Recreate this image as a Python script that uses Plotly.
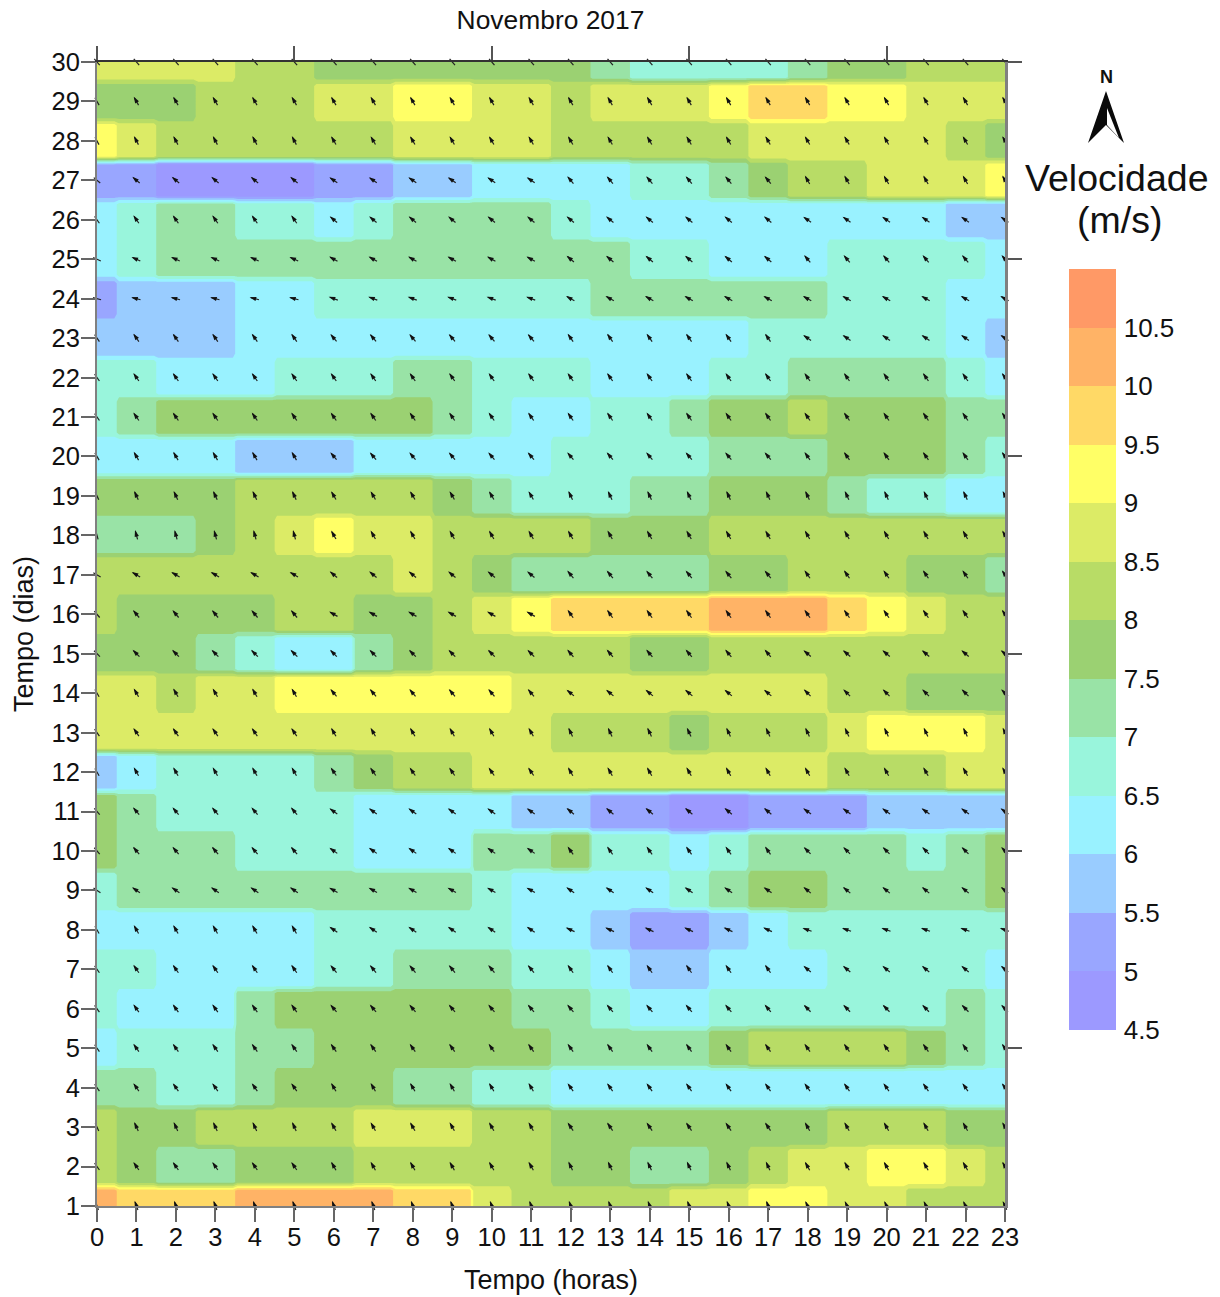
import math
import numpy as np
import plotly.graph_objects as go

hours = list(range(24))
days = list(range(1, 31))
tick_levels = [4.5, 5, 5.5, 6, 6.5, 7, 7.5, 8, 8.5, 9, 9.5, 10, 10.5]
tick_texts = ["4.5", "5", "5.5", "6", "6.5", "7", "7.5", "8", "8.5", "9", "9.5", "10", "10.5"]
band_colors = ["#9C99FF", "#99A6FF", "#99CCFF", "#99F2FF", "#99F5DC", "#99E3A6", "#9BD172",
               "#B8DC66", "#DCEB66", "#FFFF66", "#FFD966", "#FFB366", "#FF9966"]

# wind speed (m/s): one row per day (1..30), one value per hour (0..23)
speed_by_day = [
 [10.25,9.75,9.75,9.75,10.25,10.25,10.25,10.25,9.75,9.75,8.75,8.25,8.25,8.25,8.25,8.75,8.75,9.25,9.25,8.75,8.75,8.25,8.25,8.25],
 [8.25,7.75,7.25,7.25,7.75,7.75,7.75,8.25,8.25,8.25,8.25,8.25,7.75,7.75,7.25,7.25,7.75,8.25,8.75,8.75,9.25,9.25,8.75,8.25],
 [8.25,7.75,7.75,8.25,8.25,8.25,8.25,8.75,8.75,8.75,8.25,8.25,7.75,7.75,7.75,7.75,7.75,7.75,7.75,8.25,8.25,8.25,7.75,7.75],
 [7.25,7.25,6.75,6.75,7.25,7.75,7.75,7.75,7.25,7.25,6.75,6.75,6.25,6.25,6.25,6.25,6.25,6.25,6.25,6.25,6.25,6.25,6.25,6.25],
 [6.25,6.75,6.75,6.75,7.25,7.25,7.75,7.75,7.75,7.75,7.75,7.75,7.25,7.25,7.25,7.25,7.75,8.25,8.25,8.25,8.25,7.75,7.25,6.75],
 [6.75,6.25,6.25,6.25,7.25,7.75,7.75,7.75,7.75,7.75,7.75,7.25,7.25,6.75,6.25,6.25,6.75,6.75,6.75,6.75,6.75,6.75,7.25,6.75],
 [6.75,6.75,6.25,6.25,6.25,6.25,6.75,6.75,7.25,7.25,7.25,6.75,6.75,6.25,5.75,5.75,6.25,6.25,6.25,6.75,6.75,6.75,6.75,6.25],
 [6.25,6.25,6.25,6.25,6.25,6.25,6.75,6.75,6.75,6.75,6.75,6.25,6.25,5.75,5.25,5.25,5.75,6.25,6.75,6.75,6.75,6.75,6.75,6.75],
 [6.75,7.25,7.25,7.25,7.25,7.25,7.25,7.25,7.25,7.25,6.75,6.25,6.25,6.25,6.25,6.75,7.25,7.75,7.75,7.25,7.25,7.25,7.25,7.75],
 [7.75,7.25,7.25,7.25,6.75,6.75,6.75,6.25,6.25,6.25,7.25,7.25,7.75,6.75,6.75,6.25,6.75,7.25,7.25,7.25,7.25,6.75,7.25,7.75],
 [7.75,7.25,6.75,6.75,6.75,6.75,6.75,6.25,6.25,6.25,6.25,5.75,5.75,5.25,5.25,4.75,4.75,5.25,5.25,5.25,5.75,5.75,5.75,5.75],
 [5.75,6.25,6.75,6.75,6.75,6.75,7.25,7.75,8.25,8.25,8.75,8.75,8.75,8.75,8.75,8.75,8.75,8.75,8.75,8.25,8.25,8.25,8.75,8.75],
 [8.75,8.75,8.75,8.75,8.75,8.75,8.75,8.75,8.75,8.75,8.75,8.75,8.25,8.25,8.25,7.75,8.25,8.25,8.25,8.75,9.25,9.25,9.25,8.75],
 [8.75,8.75,8.25,8.75,8.75,9.25,9.25,9.25,9.25,9.25,9.25,8.75,8.75,8.75,8.75,8.75,8.75,8.75,8.75,8.25,8.25,7.75,7.75,7.75],
 [7.75,7.75,7.75,7.25,6.75,6.25,6.25,7.25,7.75,8.25,8.25,8.25,8.25,8.25,7.75,7.75,8.25,8.25,8.25,8.25,8.25,8.25,8.25,8.25],
 [8.25,7.75,7.75,7.75,7.75,8.25,8.25,7.75,7.75,8.25,8.75,9.25,9.75,9.75,9.75,9.75,10.25,10.25,10.25,9.75,9.25,8.75,8.25,8.25],
 [8.25,8.25,8.25,8.25,8.25,8.25,8.25,8.25,8.75,8.25,7.75,7.25,7.25,7.25,7.25,7.25,7.75,7.75,8.25,8.25,8.25,7.75,7.75,7.25],
 [7.25,7.25,7.25,7.75,8.25,8.75,9.25,8.75,8.75,8.25,8.25,8.25,8.25,7.75,7.75,7.75,8.25,8.25,8.25,8.25,8.25,8.25,8.25,8.25],
 [7.75,7.75,7.75,7.75,8.25,8.25,8.25,8.25,8.25,7.75,7.25,6.75,6.75,6.75,7.25,7.25,7.75,7.75,7.75,7.25,6.75,6.75,6.25,6.25],
 [6.25,6.25,6.25,6.25,5.75,5.75,5.75,6.25,6.25,6.25,6.25,6.25,6.75,6.75,6.75,6.75,7.25,7.25,7.25,7.75,7.75,7.75,7.25,6.75],
 [6.75,7.25,7.75,7.75,7.75,7.75,7.75,7.75,7.75,7.25,6.75,6.25,6.25,6.75,6.75,7.25,7.75,7.75,8.25,7.75,7.75,7.75,7.25,7.25],
 [6.75,6.75,6.25,6.25,6.25,6.75,6.75,6.75,7.25,7.25,6.75,6.75,6.75,6.25,6.25,6.25,6.75,6.75,7.25,7.25,7.25,7.25,6.75,6.25],
 [5.75,5.75,5.75,5.75,6.25,6.25,6.25,6.25,6.25,6.25,6.25,6.25,6.25,6.25,6.25,6.25,6.25,6.75,6.75,6.75,6.75,6.75,6.25,5.75],
 [5.25,5.75,5.75,5.75,6.25,6.25,6.75,6.75,6.75,6.75,6.75,6.75,6.75,7.25,7.25,7.25,7.25,7.25,7.25,6.75,6.75,6.75,6.25,6.25],
 [6.25,6.75,7.25,7.25,7.25,7.25,7.25,7.25,7.25,7.25,7.25,7.25,7.25,7.25,6.75,6.75,6.25,6.25,6.25,6.75,6.75,6.75,6.75,6.25],
 [6.25,6.75,7.25,7.25,6.75,6.75,6.25,6.75,7.25,7.25,7.25,7.25,6.75,6.25,6.25,6.25,6.25,6.25,6.25,6.25,6.25,6.25,5.75,5.75],
 [5.25,5.25,4.75,4.75,4.75,4.75,5.25,5.25,5.75,5.75,6.25,6.25,6.25,6.25,6.75,6.75,7.25,7.75,8.25,8.25,8.75,8.75,8.75,9.25],
 [9.25,8.75,8.25,8.25,8.25,8.25,8.25,8.25,8.75,8.75,8.75,8.75,8.25,8.25,8.25,8.25,8.25,8.75,8.75,8.75,8.75,8.75,8.25,7.75],
 [7.75,7.75,7.75,8.25,8.25,8.25,8.75,8.75,9.25,9.25,8.75,8.75,8.25,8.75,8.75,8.75,9.25,9.75,9.75,9.25,9.25,8.75,8.75,8.75],
 [8.75,8.75,8.75,8.75,8.25,8.25,7.75,7.75,7.75,7.75,7.75,7.75,7.75,7.25,6.75,6.75,6.75,6.75,7.25,7.75,7.75,8.25,8.25,8.25],
]

# wind direction (degrees anticlockwise from north) per day, for hour blocks 0-5, 6-11, 12-17, 18-23
direction_by_day = [
 [20,20,20,25],[35,30,25,30],[25,30,35,30],[35,30,35,35],[35,35,35,35],
 [35,40,40,45],[35,40,35,50],[30,55,65,70],[55,60,55,50],[40,55,35,45],
 [40,55,50,55],[30,35,30,30],[35,30,25,25],[30,40,50,45],[45,45,40,50],
 [40,60,35,35],[60,50,40,35],[15,30,30,30],[25,30,25,25],[30,40,40,35],
 [35,35,35,35],[35,35,35,35],[35,40,35,55],[75,70,60,60],[65,60,50,40],
 [35,50,50,55],[50,55,40,30],[28,30,30,30],[30,30,30,30],[40,40,40,40],
]

X_MAX, Y_MIN, Y_MAX = 23, 1, 30
L, T, R, B = 97, 62, 1005, 1206
W, H = 1220, 1297
FONT = "Liberation Sans"


def plateau(values, half):
    """Each measurement holds a flat plateau around its own coordinate; the two ends stop at the axis."""
    out = []
    for v in values:
        out.append(v - half if v > values[0] else v)
        out.append(v + half if v < values[-1] else v)
    return out


def px(xp):
    return (xp - L) / (R - L)


def py(yp):
    return (B - yp) / (B - T)


def poly(points):
    return "M" + " L".join(f"{px(a):.5f},{py(b):.5f}" for a, b in points) + " Z"


xs = plateau(hours, 0.44)
ys = plateau(days, 0.39)
# the end plateaus need a second, distinct coordinate
xs[0], xs[1] = 0, 0.44
xs[-2], xs[-1] = 23 - 0.44, 23
ys[0], ys[1] = 1, 1.39
ys[-2], ys[-1] = 30 - 0.39, 30
z = np.repeat(np.repeat(np.array(speed_by_day), 2, axis=0), 2, axis=1)

lo, hi = 4.5, 11.0
scale = []
for i, c in enumerate(band_colors):
    scale.append([i / len(band_colors), c])
    scale.append([(i + 1) / len(band_colors), c])

fig = go.Figure()
fig.add_trace(go.Contour(
    x=xs, y=ys, z=z, zmin=lo, zmax=hi, zauto=False, colorscale=scale,
    autocontour=False,
    contours=dict(coloring="fill", start=5, end=10.5, size=0.5, showlines=False),
    line=dict(width=0, smoothing=0),
    hoverinfo="skip",
    colorbar=dict(
        lenmode="pixels", len=761, thicknessmode="pixels", thickness=47,
        x=(1069 - L) / (R - L), xanchor="left", xpad=0,
        y=py(1030), yanchor="bottom", ypad=0,
        tickvals=tick_levels, ticktext=tick_texts, ticks="outside", ticklen=3, tickwidth=1, tickcolor="white",
        tickfont=dict(family=FONT, size=26, color="#111"),
        outlinewidth=0, borderwidth=0,
    ),
))
fig.add_trace(go.Scatter(x=[None], y=[None], xaxis="x2", yaxis="y2", showlegend=False, hoverinfo="skip"))

# wind arrows: a shaft marker centred on each grid point and a head marker whose tip sits at the shaft's end
HALF_LEN_X = 5.5 / ((R - L) / X_MAX)
HALF_LEN_Y = 5.5 / ((B - T) / (Y_MAX - Y_MIN))
arrow_x, arrow_y, arrow_angle, head_x, head_y = [], [], [], [], []
for di, day in enumerate(days):
    for h in hours:
        a = direction_by_day[di][min(h // 6, 3)]
        arrow_x.append(h)
        arrow_y.append(day)
        arrow_angle.append(-a)
        head_x.append(h - HALF_LEN_X * math.sin(math.radians(a)))
        head_y.append(day + HALF_LEN_Y * math.cos(math.radians(a)))

fig.add_trace(go.Scatter(
    x=arrow_x, y=arrow_y, mode="markers", cliponaxis=False, hoverinfo="skip", showlegend=False,
    marker=dict(symbol="line-ns", size=6, angle=arrow_angle, line=dict(width=1.2, color="#222")),
))
fig.add_trace(go.Scatter(
    x=head_x, y=head_y, mode="markers", cliponaxis=False, hoverinfo="skip", showlegend=False,
    marker=dict(symbol="arrow", size=7, angle=arrow_angle, color="#111", line=dict(width=0)),
))

annos = [
    dict(x=px(1117), y=py(178), xref="paper", yref="paper", text="Velocidade", showarrow=False,
         font=dict(family=FONT, size=37.5, color="#111"), xanchor="center", yanchor="middle"),
    dict(x=px(1119), y=py(220), xref="paper", yref="paper", text="(m/s)", showarrow=False,
         font=dict(family=FONT, size=37.5, color="#111"), xanchor="center", yanchor="middle"),
    dict(x=px(1106), y=py(77), xref="paper", yref="paper", text="<b>N</b>", showarrow=False,
         font=dict(family=FONT, size=18, color="#111"), xanchor="center", yanchor="middle"),
]

shapes = [
    dict(type="path", xref="paper", yref="paper", line=dict(width=0), fillcolor="#0a0a0a",
         path=poly([(1106, 91), (1124, 143), (1106, 125), (1088, 143)])),
    dict(type="path", xref="paper", yref="paper", line=dict(width=0), fillcolor="#ffffff",
         path=poly([(1107, 108), (1119, 138), (1107, 125)])),
]

axis_font = dict(family=FONT, size=25.5, color="#111")
fig.update_layout(
    width=W, height=H, margin=dict(l=L, r=W - R, t=T, b=H - B, pad=0),
    paper_bgcolor="white", plot_bgcolor="white", showlegend=False,
    font=dict(family=FONT, color="#111"),
    title=dict(text="Novembro 2017", x=(457 + 644) / 2 / W, xanchor="center", y=1 - 20 / H, yanchor="middle",
               font=dict(family=FONT, size=26.4, color="#111")),
    xaxis=dict(range=[0, X_MAX], tickvals=hours, tickfont=axis_font, ticks="outside", ticklen=14, tickwidth=2,
               ticklabelstandoff=-7,
               tickcolor="#666", showline=True, linecolor="#808080", linewidth=2, showgrid=False, zeroline=False,
               title=dict(text="Tempo (horas)", font=dict(family=FONT, size=27, color="#111"), standoff=21),
               automargin=False),
    yaxis=dict(range=[Y_MIN, Y_MAX], tickvals=days, tickfont=axis_font, ticks="outside", ticklen=14, tickwidth=2,
               ticklabelstandoff=-4,
               tickcolor="#666", showline=True, linecolor="#808080", linewidth=2, showgrid=False, zeroline=False,
               title=dict(text="Tempo (dias)", font=dict(family=FONT, size=27, color="#111"), standoff=10),
               automargin=False),
    xaxis2=dict(overlaying="x", side="top", anchor="y", range=[0, X_MAX], tickvals=[0, 5, 10, 15, 20],
                showticklabels=False, ticks="outside", ticklen=14, tickwidth=2, tickcolor="#555",
                showline=True, linecolor="#333", linewidth=1.5, showgrid=False, zeroline=False),
    yaxis2=dict(overlaying="y", side="right", anchor="x", range=[Y_MIN, Y_MAX], tickvals=[5, 10, 15, 20, 25, 30],
                showticklabels=False, ticks="outside", ticklen=14, tickwidth=2, tickcolor="#555",
                showline=True, linecolor="#808080", linewidth=3, showgrid=False, zeroline=False),
    annotations=annos, shapes=shapes,
)

fig.write_html("out.html", config=dict(displayModeBar=False),
               post_script="document.body.style.margin='0';document.documentElement.style.overflow='hidden';")
